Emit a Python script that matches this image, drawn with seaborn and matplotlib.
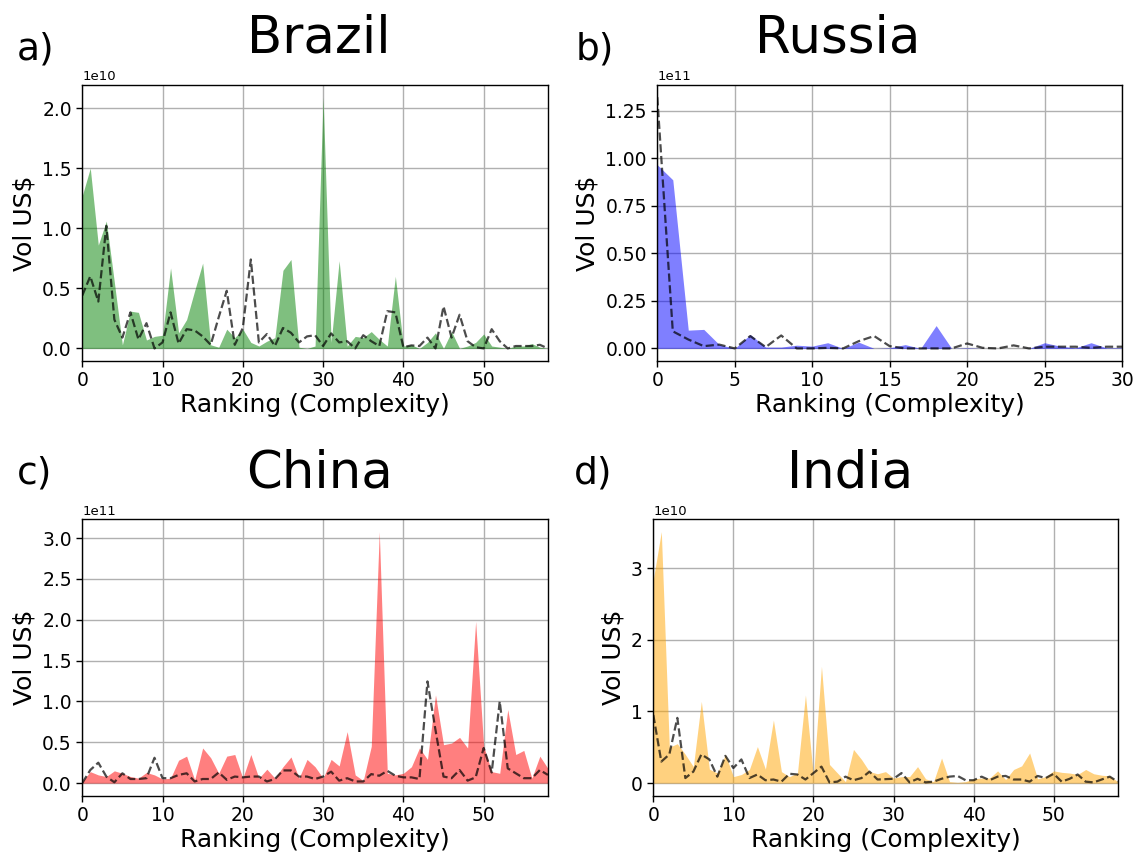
import numpy as np
import matplotlib
matplotlib.use('Agg')
import matplotlib.pyplot as plt
import seaborn as sns

# values (scaled: Brazil/India 1e10, Russia/China 1e11)
brazil_fill = [1.27, 1.50, 0.86, 1.06, 0.55, 0.03, 0.31, 0.30, 0.07, 0.10,
               0.11, 0.67, 0.13, 0.24, 0.48, 0.71, 0.03, 0.01, 0.16, 0.09,
               0.16, 0.05, 0.02, 0.06, 0.09, 0.65, 0.74, 0.01, 0.00, 0.02,
               2.09, 0.05, 0.73, 0.02, 0.10, 0.09, 0.14, 0.075, 0.02, 0.60,
               0.02, 0.03, 0.00, 0.05, 0.13, 0.00, 0.14, 0.00, 0.02, 0.05,
               0.12, 0.02, 0.01, 0.00, 0.02, 0.02, 0.04, 0.01, 0.00]
brazil_line = [0.44, 0.60, 0.39, 1.02, 0.24, 0.09, 0.30, 0.075, 0.21, 0.00,
               0.05, 0.30, 0.04, 0.16, 0.15, 0.10, 0.03, 0.26, 0.48, 0.03,
               0.17, 0.74, 0.05, 0.12, 0.02, 0.17, 0.13, 0.05, 0.10, 0.11,
               0.02, 0.125, 0.05, 0.06, 0.00, 0.11, 0.06, 0.02, 0.31, 0.30,
               0.01, 0.025, 0.02, 0.09, 0.00, 0.35, 0.09, 0.28, 0.06, 0.01,
               0.00, 0.16, 0.06, 0.00, 0.02, 0.02, 0.02, 0.03, 0.00]

russia_fill = [0.965, 0.886, 0.096, 0.10, 0.02, 0.0, 0.073, 0.007, 0.007, 0.017,
               0.012, 0.03, 0.0, 0.033, 0.0, 0.003, 0.02, 0.0, 0.12, 0.0,
               0.003, 0.0, 0.0, 0.0, 0.0, 0.03, 0.012, 0.003, 0.03, 0.003, 0.003]
russia_line = [1.32, 0.09, 0.047, 0.012, 0.02, 0.0, 0.065, 0.007, 0.068, 0.0,
               0.0, 0.003, 0.0, 0.038, 0.065, 0.012, 0.0, 0.0, 0.0, 0.0,
               0.026, 0.003, 0.0, 0.016, 0.0, 0.009, 0.009, 0.009, 0.003, 0.009, 0.009]

china_fill = [0.02, 0.14, 0.10, 0.08, 0.15, 0.12, 0.08, 0.06, 0.13, 0.10,
              0.05, 0.06, 0.28, 0.33, 0.04, 0.43, 0.31, 0.12, 0.33, 0.35,
              0.06, 0.35, 0.06, 0.17, 0.06, 0.20, 0.32, 0.06, 0.29, 0.20,
              0.06, 0.29, 0.21, 0.63, 0.10, 0.03, 0.45, 3.08, 0.12, 0.10,
              0.12, 0.20, 0.43, 0.29, 1.08, 0.47, 0.49, 0.56, 0.43, 1.98,
              0.45, 0.14, 0.12, 0.90, 0.35, 0.40, 0.06, 0.33, 0.18]
china_line = [0.00, 0.16, 0.25, 0.08, 0.01, 0.12, 0.05, 0.05, 0.06, 0.31,
              0.06, 0.06, 0.10, 0.12, 0.02, 0.05, 0.05, 0.13, 0.04, 0.08,
              0.07, 0.08, 0.08, 0.02, 0.05, 0.155, 0.155, 0.08, 0.08, 0.05,
              0.08, 0.14, 0.03, 0.06, 0.02, 0.02, 0.11, 0.09, 0.15, 0.09,
              0.07, 0.07, 0.05, 1.245, 0.65, 0.08, 0.06, 0.16, 0.03, 0.07,
              0.43, 0.13, 1.00, 0.18, 0.12, 0.06, 0.06, 0.16, 0.10]

india_fill = [2.84, 3.51, 0.50, 0.55, 0.40, 0.23, 1.14, 0.195, 0.14, 0.40,
              0.09, 0.12, 0.19, 0.51, 0.195, 0.88, 0.16, 0.09, 0.14, 1.23,
              0.09, 1.63, 0.26, 0.14, 0.02, 0.47, 0.33, 0.16, 0.13, 0.16,
              0.07, 0.09, 0.09, 0.23, 0.06, 0.02, 0.35, 0.02, 0.01, 0.02,
              0.06, 0.07, 0.07, 0.17, 0.05, 0.19, 0.24, 0.42, 0.06, 0.09,
              0.17, 0.15, 0.14, 0.12, 0.19, 0.13, 0.11, 0.10, 0.02]
india_line = [0.95, 0.30, 0.40, 0.91, 0.07, 0.16, 0.40, 0.33, 0.09, 0.38,
              0.21, 0.33, 0.07, 0.12, 0.04, 0.05, 0.02, 0.13, 0.12, 0.05,
              0.14, 0.23, 0.01, 0.02, 0.09, 0.04, 0.07, 0.16, 0.05, 0.055,
              0.06, 0.14, 0.01, 0.06, 0.01, 0.02, 0.06, 0.09, 0.10, 0.04,
              0.04, 0.09, 0.04, 0.09, 0.10, 0.05, 0.05, 0.02, 0.10, 0.07,
              0.13, 0.02, 0.06, 0.12, 0.02, 0.01, 0.05, 0.09, 0.02]

countries = ['Brazil', 'Russia', 'China', 'India']
letters = ['a)', 'b)', 'c)', 'd)']
scales = [1e10, 1e11, 1e11, 1e10]
fills = [brazil_fill, russia_fill, china_fill, india_fill]
lines = [brazil_line, russia_line, china_line, india_line]
colors = ['green', 'blue', 'red', 'orange']

sns.set_style('whitegrid', {'axes.edgecolor': 'black', 'grid.color': '#b0b0b0',
                            'xtick.bottom': True, 'ytick.left': True,
                            'xtick.color': 'black', 'ytick.color': 'black',
                            'text.color': 'black', 'axes.labelcolor': 'black'})
plt.rcParams['font.family'] = ['DejaVu Sans']

fig = plt.figure(figsize=(11.36, 8.55), dpi=100)

rects = [[0.0724, 0.5778, 0.4099, 0.3232],
         [0.5786, 0.5778, 0.4091, 0.3232],
         [0.0724, 0.0694, 0.4099, 0.3236],
         [0.5751, 0.0694, 0.4088, 0.3236]]
title_x = [0.508, 0.389, 0.51, 0.424]
letter_pos = [(0.015, 0.930), (0.507, 0.930), (0.015, 0.435), (0.505, 0.435)]

for k in range(4):
    ax = fig.add_axes(rects[k])
    x = np.arange(len(fills[k]))
    area = np.array(fills[k]) * scales[k]
    dash = np.array(lines[k]) * scales[k]
    ax.fill_between(x, 0, area, color=colors[k], alpha=0.5, linewidth=0)
    sns.lineplot(x=x, y=dash, ax=ax, color='black', alpha=0.7,
                 linestyle='--', linewidth=1.6)
    ax.set_xlim(0, len(x) - 1)
    top = max(area.max(), dash.max())
    ax.set_ylim(-0.05 * top, 1.05 * top)
    ax.grid(True, linewidth=1.0)
    for s in ax.spines.values():
        s.set_linewidth(1.0)
    ax.tick_params(labelsize=13.5, length=4, width=1)
    ax.yaxis.get_offset_text().set_fontsize(9.5)
    ax.set_xlabel('Ranking (Complexity)', fontsize=18, labelpad=2)
    ax.set_ylabel('Vol US$', fontsize=18)
    ax.set_title(countries[k], fontsize=37, x=title_x[k], pad=23)
    fig.text(letter_pos[k][0], letter_pos[k][1], letters[k], fontsize=27,
             va='baseline', ha='left')

plt.savefig('out.png', dpi=100)
